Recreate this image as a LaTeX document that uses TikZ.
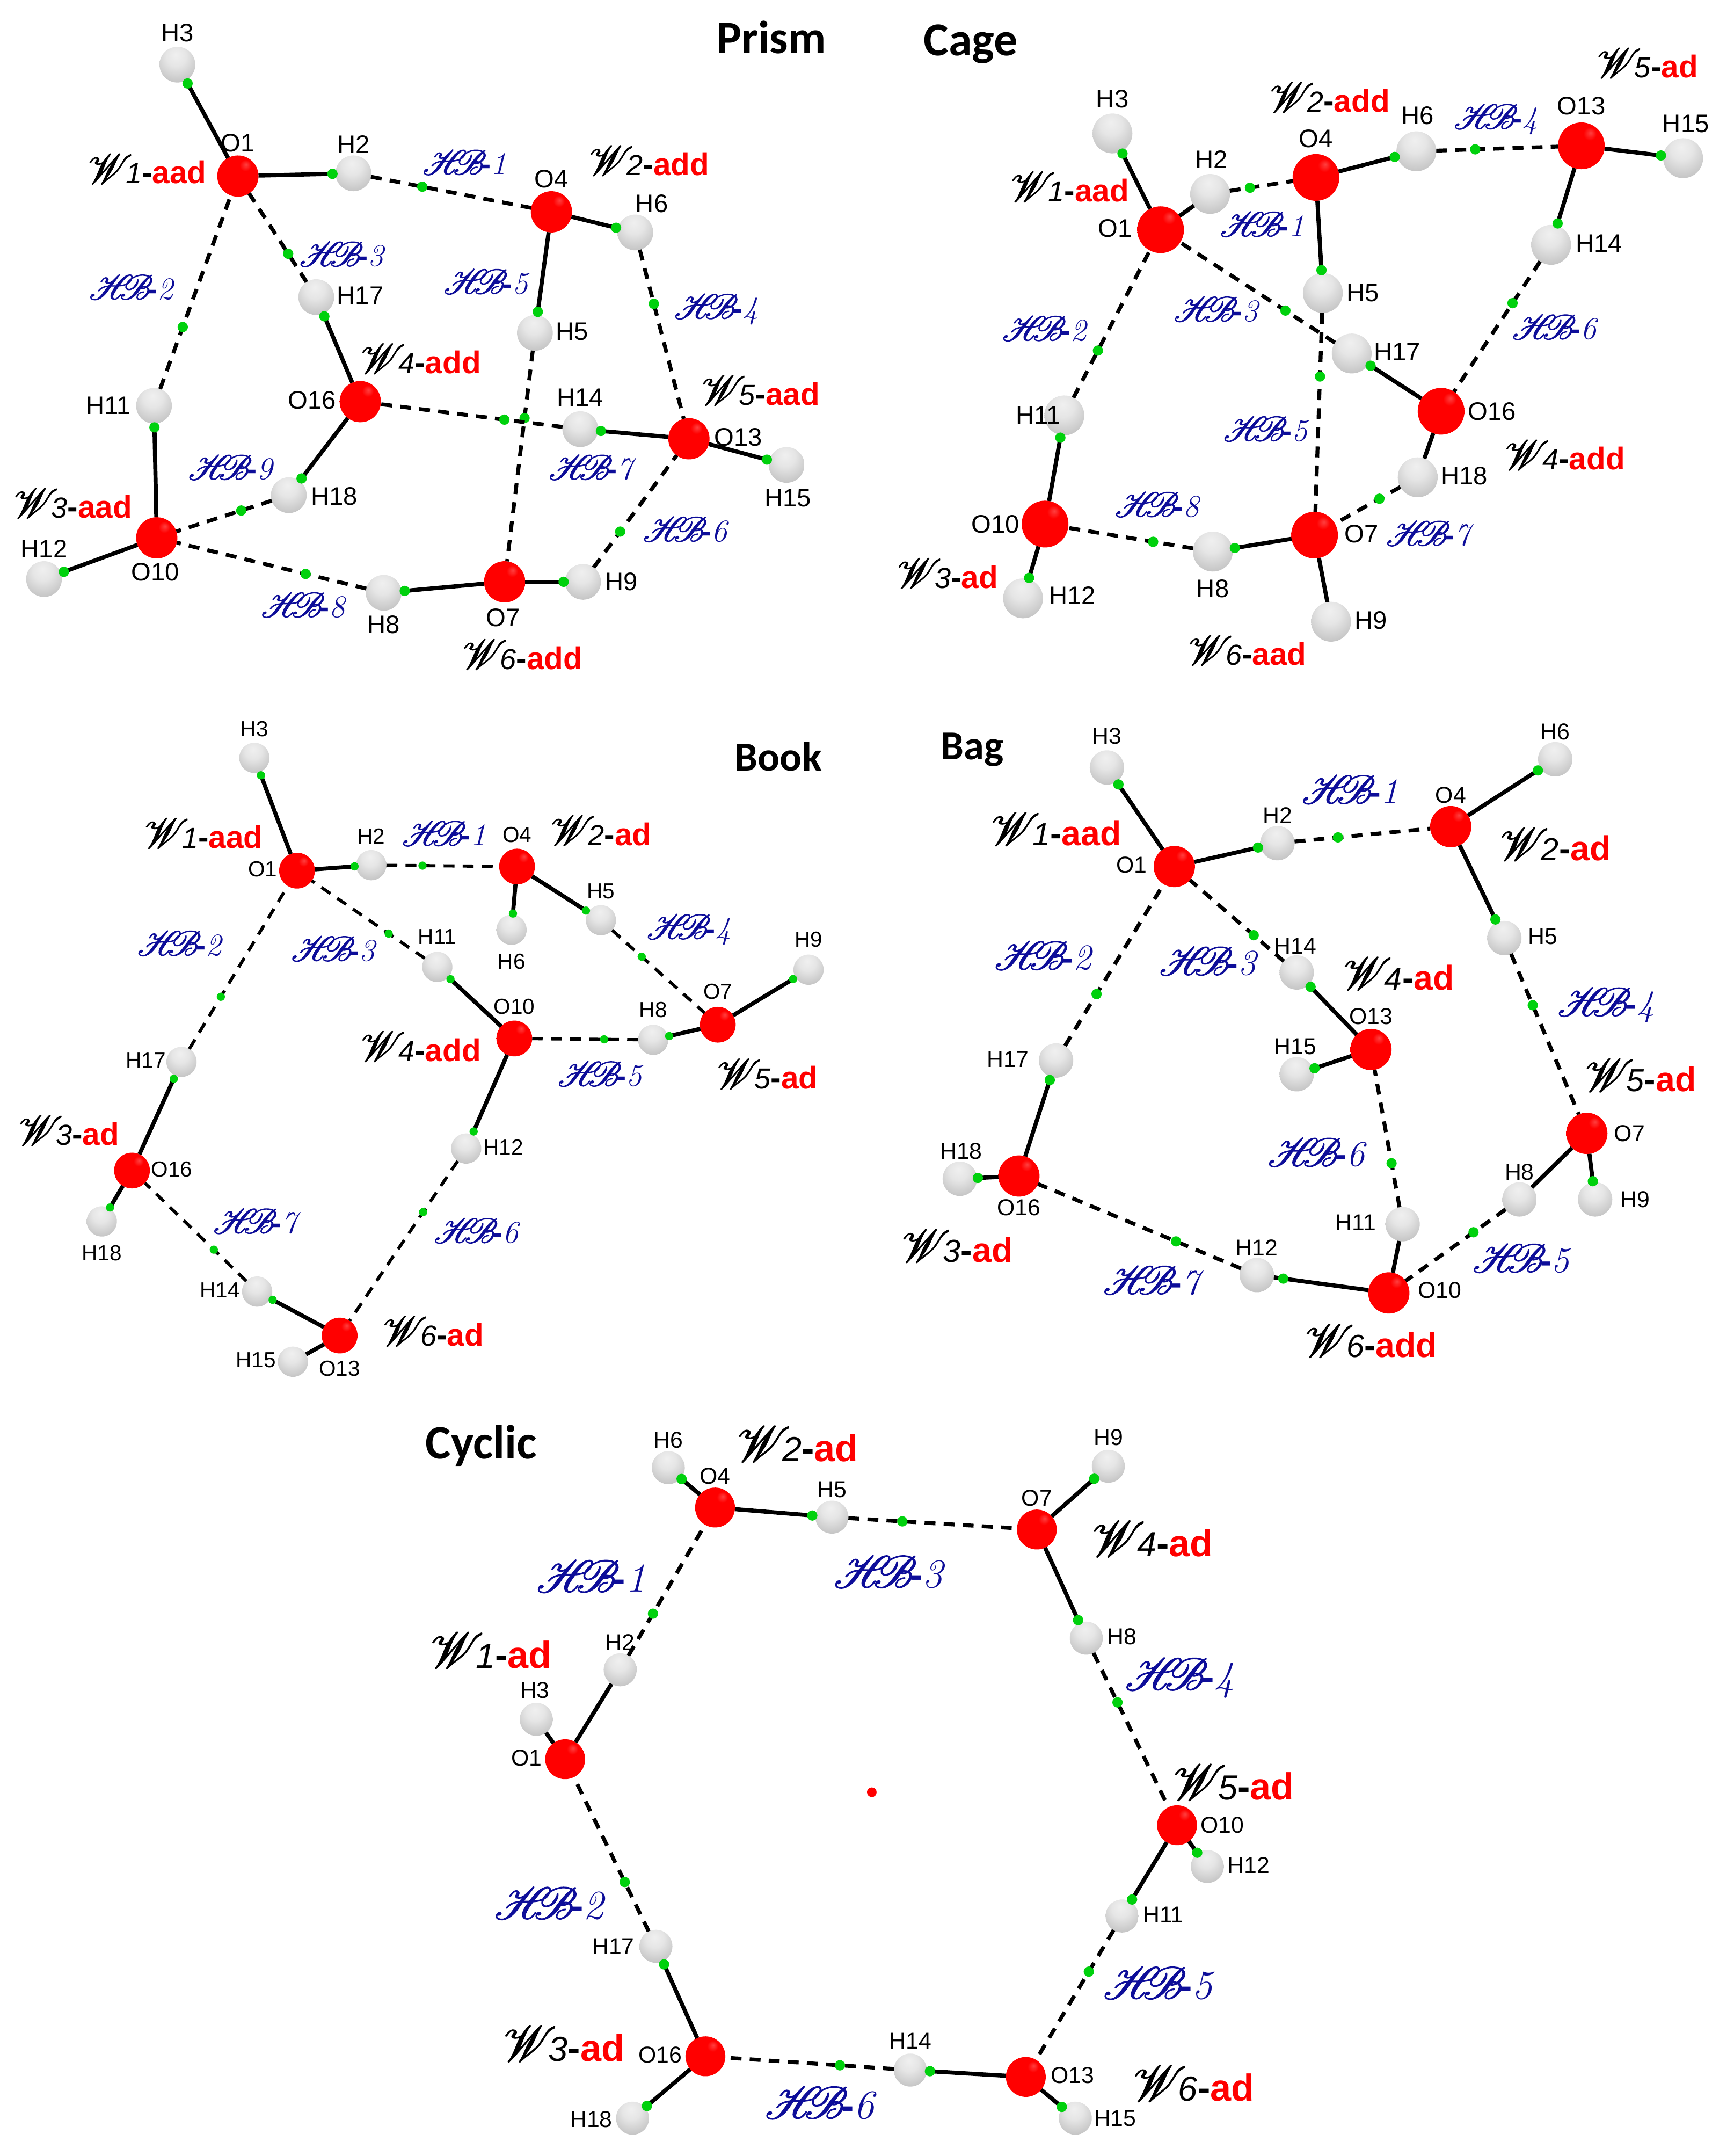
\documentclass[tikz,border=0pt]{standalone}
\usepackage{fontspec}
\usepackage{mathrsfs}
\newfontfamily\labfont{Liberation Sans}
\newfontfamily\headfont{Carlito}
\definecolor{hbblue}{rgb}{0.05,0.05,0.6}
\definecolor{cpgreen}{rgb}{0,0.82,0.05}
\pgfdeclareradialshading{oxyball}{\pgfpoint{10bp}{14bp}}{color(0bp)=(red!75!white);color(7bp)=(red);color(48bp)=(red);color(65bp)=(red!82!black);color(80bp)=(red!75!black)}
\pgfdeclareradialshading{hydball}{\pgfpoint{-2bp}{14bp}}{color(0bp)=(black!6);color(14bp)=(black!10);color(38bp)=(black!26);color(58bp)=(black!46);color(80bp)=(black!58)}
\newcommand{\heavy}[1]{\special{pdf:code q 2 Tr .22 w}{#1}\special{pdf:code Q}}
\newcommand{\wat}[2]{\heavy{\fontsize{19}{19}\selectfont$\mathscr{W}$\kern-3pt}{\fontsize{12}{12}\selectfont\textit{#1}}{\labfont\bfseries -\textcolor{red}{#2}}}
\newcommand{\hbn}[1]{\heavy{\fontsize{15}{15}\selectfont$\mathscr{H}\mkern-7mu\mathscr{B}$\kern-2pt}{\labfont\bfseries\fontsize{12}{12}\selectfont -}{\fontsize{13}{13}\selectfont\textit{#1}}}
\tikzset{
  ball/.style={circle, inner sep=0pt, outer sep=0pt, draw=none},
  oxy/.style={ball, shading=oxyball, minimum size=.6cm},
  hyd/.style={ball, shading=hydball, minimum size=.52cm},
  atomlab/.style={inner sep=0pt, font=\labfont\fontsize{10.5}{10.5}\selectfont},
  wlab/.style={inner sep=0pt, font=\labfont\fontsize{13}{13}\selectfont},
  hblab/.style={inner sep=0pt, text=hbblue, font=\fontsize{14}{14}\selectfont},
  headlab/.style={inner sep=0pt, font=\headfont\bfseries\fontsize{17}{17}\selectfont},
  bcp/.style={circle, inner sep=0pt, minimum size=.15cm, fill=cpgreen, pos=.96},
  hcp/.style={circle, inner sep=0pt, minimum size=.15cm, fill=cpgreen, pos=.32},
  bond/.style={line width=1.7pt},
  hbond/.style={line width=1.6pt, dash pattern=on 4.5pt off 3.4pt},
}
\begin{document}
\begin{tikzpicture}[x=.02cm, y=-.02cm]
    \useasboundingbox (0,0) rectangle (1261,1567.5);
    \node[headlab, scale=1.13] (tprism) at (561,27) {Prism};
    \node[headlab, scale=1.15] (tcage) at (706,32) {Cage};
    \node[headlab] (tbook) at (566,550) {Book};
    \node[headlab] (tbag) at (707,545) {Bag};
    \node[headlab, scale=1.17] (tcyclic) at (350,1051) {Cyclic};
    % prism
    \begin{scope}
        \node[oxy] (po1) at (173,128) {}; \node[atomlab] (pto1) at (173,104) {O1};
        \node[hyd] (ph3) at (129,47) {}; \node[atomlab] (pth3) at (129,24) {H3};
        \node[hyd] (ph2) at (257,126) {}; \node[atomlab] (pth2) at (257,105) {H2};
        \node[oxy] (po4) at (401,154) {}; \node[atomlab] (pto4) at (401,130) {O4};
        \node[hyd] (ph6) at (462,169) {}; \node[atomlab] (pth6) at (474,148) {H6};
        \node[hyd] (ph17) at (230,216) {}; \node[atomlab] (pth17) at (262,215) {H17};
        \node[hyd] (ph5) at (389,242) {}; \node[atomlab] (pth5) at (416,241) {H5};
        \node[hyd] (ph11) at (112,295) {}; \node[atomlab] (pth11) at (79,295) {H11};
        \node[oxy] (po16) at (262,292) {}; \node[atomlab] (pto16) at (227,291) {O16};
        \node[hyd] (ph14) at (422,312) {}; \node[atomlab] (pth14) at (422,289) {H14};
        \node[oxy] (po13) at (501,319) {}; \node[atomlab] (pto13) at (537,318) {O13};
        \node[hyd] (ph15) at (572,338) {}; \node[atomlab] (pth15) at (573,362) {H15};
        \node[hyd] (ph18) at (210,360) {}; \node[atomlab] (pth18) at (243,361) {H18};
        \node[oxy] (po10) at (114,391) {}; \node[atomlab] (pto10) at (113,416) {O10};
        \node[hyd] (ph12) at (32,421) {}; \node[atomlab] (pth12) at (32,399) {H12};
        \node[hyd] (ph8) at (279,431) {}; \node[atomlab] (pth8) at (279,454) {H8};
        \node[oxy] (po7) at (367,423) {}; \node[atomlab] (pto7) at (366,449) {O7};
        \node[hyd] (ph9) at (424,423) {}; \node[atomlab] (pth9) at (452,423) {H9};
        \draw[bond] (po1) -- node[bcp] (pb1) {} (ph3);
        \draw[bond] (po1) -- node[bcp] (pb2) {} (ph2);
        \draw[bond] (po4) -- node[bcp] (pb3) {} (ph6);
        \draw[bond] (po4) -- node[bcp] (pb4) {} (ph5);
        \draw[bond] (po16) -- node[bcp] (pb5) {} (ph17);
        \draw[bond] (po16) -- node[bcp] (pb6) {} (ph18);
        \draw[bond] (po13) -- node[bcp] (pb7) {} (ph14);
        \draw[bond] (po13) -- node[bcp] (pb8) {} (ph15);
        \draw[bond] (po10) -- node[bcp] (pb9) {} (ph11);
        \draw[bond] (po10) -- node[bcp] (pb10) {} (ph12);
        \draw[bond] (po7) -- node[bcp] (pb11) {} (ph8);
        \draw[bond] (po7) -- node[bcp] (pb12) {} (ph9);
        \draw[hbond] (ph2) -- node[hcp] (pc1) {} (po4);
        \draw[hbond] (ph11) -- node[hcp] (pc2) {} (po1);
        \draw[hbond] (ph17) -- node[hcp] (pc3) {} (po1);
        \draw[hbond] (ph6) -- node[hcp] (pc4) {} (po13);
        \draw[hbond] (ph5) -- node[hcp] (pc5) {} (po7);
        \draw[hbond] (ph9) -- node[hcp] (pc6) {} (po13);
        \draw[hbond] (ph14) -- node[hcp] (pc7) {} (po16);
        \draw[hbond] (ph8) -- node[hcp] (pc8) {} (po10);
        \draw[hbond] (ph18) -- node[hcp] (pc9) {} (po10);
        \node[wlab] (pw1) at (107,123) {\wat{1}{aad}};
        \node[wlab] (pw2) at (472,117) {\wat{2}{add}};
        \node[wlab] (pw3) at (53,366) {\wat{3}{aad}};
        \node[wlab] (pw4) at (306,261) {\wat{4}{add}};
        \node[wlab] (pw5) at (553,284) {\wat{5}{aad}};
        \node[wlab] (pw6) at (380,476) {\wat{6}{add}};
        \node[hblab] (phb1) at (338,118) {\hbn{1}};
        \node[hblab] (phb2) at (96,209) {\hbn{2}};
        \node[hblab] (phb3) at (249,185) {\hbn{3}};
        \node[hblab] (phb4) at (521,225) {\hbn{4}};
        \node[hblab] (phb5) at (354,205) {\hbn{5}};
        \node[hblab] (phb6) at (499,385) {\hbn{6}};
        \node[hblab] (phb7) at (431,340) {\hbn{7}};
        \node[hblab] (phb8) at (221,440) {\hbn{8}};
        \node[hblab] (phb9) at (168,340) {\hbn{9}};
    \end{scope}
    % cage
    \begin{scope}[oxy/.append style={minimum size=.68cm}, hyd/.append style={minimum size=.58cm}]
        \node[oxy] (co1) at (844,167) {}; \node[atomlab] (cto1) at (811,166) {O1};
        \node[hyd] (ch3) at (809,97) {}; \node[atomlab] (cth3) at (809,72) {H3};
        \node[hyd] (ch2) at (880,141) {}; \node[atomlab] (cth2) at (881,116) {H2};
        \node[oxy] (co4) at (957,129) {}; \node[atomlab] (cto4) at (957,101) {O4};
        \node[hyd] (ch6) at (1030,110) {}; \node[atomlab] (cth6) at (1031,84) {H6};
        \node[oxy] (co13) at (1150,106) {}; \node[atomlab] (cto13) at (1150,77) {O13};
        \node[hyd] (ch15) at (1224,115) {}; \node[atomlab] (cth15) at (1226,90) {H15};
        \node[hyd] (ch14) at (1128,178) {}; \node[atomlab] (cth14) at (1163,177) {H14};
        \node[hyd] (ch5) at (962,213) {}; \node[atomlab] (cth5) at (991,213) {H5};
        \node[hyd] (ch17) at (983,257) {}; \node[atomlab] (cth17) at (1016,256) {H17};
        \node[oxy] (co16) at (1048,299) {}; \node[atomlab] (cto16) at (1085,299) {O16};
        \node[hyd] (ch18) at (1031,347) {}; \node[atomlab] (cth18) at (1065,346) {H18};
        \node[oxy] (co7) at (956,389) {}; \node[atomlab] (cto7) at (990,388) {O7};
        \node[hyd] (ch8) at (882,401) {}; \node[atomlab] (cth8) at (882,428) {H8};
        \node[oxy] (co10) at (760,381) {}; \node[atomlab] (cto10) at (724,381) {O10};
        \node[hyd] (ch12) at (744,435) {}; \node[atomlab] (cth12) at (780,433) {H12};
        \node[hyd] (ch11) at (774,302) {}; \node[atomlab] (cth11) at (755,302) {H11};
        \node[hyd] (ch9) at (968,452) {}; \node[atomlab] (cth9) at (997,451) {H9};
        \draw[bond] (co1) -- node[bcp] (cb1) {} (ch3);
        \draw[bond] (co1) -- (ch2);
        \draw[bond] (co4) -- node[bcp] (cb3) {} (ch6);
        \draw[bond] (co4) -- node[bcp] (cb4) {} (ch5);
        \draw[bond] (co13) -- node[bcp] (cb5) {} (ch15);
        \draw[bond] (co13) -- node[bcp] (cb6) {} (ch14);
        \draw[bond] (co16) -- node[bcp] (cb7) {} (ch17);
        \draw[bond] (co16) -- (ch18);
        \draw[bond] (co7) -- node[bcp] (cb9) {} (ch8);
        \draw[bond] (co7) -- (ch9);
        \draw[bond] (co10) -- node[bcp] (cb11) {} (ch11);
        \draw[bond] (co10) -- node[bcp] (cb12) {} (ch12);
        \draw[hbond] (ch2) -- node[hcp] (cc1) {} (co4);
        \draw[hbond] (ch11) -- node[hcp] (cc2) {} (co1);
        \draw[hbond] (ch17) -- node[hcp] (cc3) {} (co1);
        \draw[hbond] (ch6) -- node[hcp] (cc4) {} (co13);
        \draw[hbond] (ch5) -- node[hcp] (cc5) {} (co7);
        \draw[hbond] (ch14) -- node[hcp] (cc6) {} (co16);
        \draw[hbond] (ch18) -- node[hcp] (cc7) {} (co7);
        \draw[hbond] (ch8) -- node[hcp] (cc8) {} (co10);
        \node[wlab] (cw1) at (778,136) {\wat{1}{aad}};
        \node[wlab] (cw2) at (967,71) {\wat{2}{add}};
        \node[wlab] (cw3) at (689,417) {\wat{3}{ad}};
        \node[wlab] (cw4) at (1138,331) {\wat{4}{add}};
        \node[wlab] (cw5) at (1198,46) {\wat{5}{ad}};
        \node[wlab] (cw6) at (907,473) {\wat{6}{aad}};
        \node[hblab] (chb1) at (918,163) {\hbn{1}};
        \node[hblab] (chb2) at (760,239) {\hbn{2}};
        \node[hblab] (chb3) at (885,225) {\hbn{3}};
        \node[hblab] (chb4) at (1088,87) {\hbn{4}};
        \node[hblab] (chb5) at (921,312) {\hbn{5}};
        \node[hblab] (chb6) at (1131,238) {\hbn{6}};
        \node[hblab] (chb7) at (1040,388) {\hbn{7}};
        \node[hblab] (chb8) at (842,367) {\hbn{8}};
    \end{scope}
    % book
    \begin{scope}[oxy/.append style={minimum size=.52cm}, hyd/.append style={minimum size=.44cm},
        atomlab/.append style={font=\labfont\fontsize{9}{9}\selectfont}, bcp/.append style={minimum size=.12cm}, hcp/.append style={minimum size=.12cm}, hbond/.append style={line width=1.3pt}]
        \node[hyd] (kh3) at (185,551) {}; \node[atomlab] (kth3) at (185,530) {H3};
        \node[oxy] (ko1) at (216,633) {}; \node[atomlab] (kto1) at (191,632) {O1};
        \node[hyd] (kh2) at (270,629) {}; \node[atomlab] (kth2) at (270,608) {H2};
        \node[oxy] (ko4) at (376,630) {}; \node[atomlab] (kto4) at (376,607) {O4};
        \node[hyd] (kh6) at (372,676) {}; \node[atomlab] (kth6) at (372,699) {H6};
        \node[hyd] (kh5) at (437,669) {}; \node[atomlab] (kth5) at (437,648) {H5};
        \node[hyd] (kh11) at (318,703) {}; \node[atomlab] (kth11) at (318,681) {H11};
        \node[oxy] (ko10) at (374,755) {}; \node[atomlab] (kto10) at (374,732) {O10};
        \node[hyd] (kh8) at (475,756) {}; \node[atomlab] (kth8) at (475,734) {H8};
        \node[oxy] (ko7) at (522,745) {}; \node[atomlab] (kto7) at (522,721) {O7};
        \node[hyd] (kh9) at (588,705) {}; \node[atomlab] (kth9) at (588,683) {H9};
        \node[hyd] (kh17) at (132,772) {}; \node[atomlab] (kth17) at (106,771) {H17};
        \node[oxy] (ko16) at (96,851) {}; \node[atomlab] (kto16) at (125,850) {O16};
        \node[hyd] (kh18) at (74,888) {}; \node[atomlab] (kth18) at (74,911) {H18};
        \node[hyd] (kh12) at (339,835) {}; \node[atomlab] (kth12) at (366,834) {H12};
        \node[hyd] (kh14) at (187,939) {}; \node[atomlab] (kth14) at (160,938) {H14};
        \node[oxy] (ko13) at (247,971) {}; \node[atomlab] (kto13) at (247,995) {O13};
        \node[hyd] (kh15) at (213,990) {}; \node[atomlab] (kth15) at (186,989) {H15};
        \draw[bond] (ko1) -- node[bcp] (kb1) {} (kh3);
        \draw[bond] (ko1) -- node[bcp] (kb2) {} (kh2);
        \draw[bond] (ko4) -- node[bcp] (kb3) {} (kh6);
        \draw[bond] (ko4) -- node[bcp] (kb4) {} (kh5);
        \draw[bond] (ko10) -- node[bcp] (kb5) {} (kh11);
        \draw[bond] (ko10) -- node[bcp] (kb6) {} (kh12);
        \draw[bond] (ko7) -- node[bcp] (kb7) {} (kh8);
        \draw[bond] (ko7) -- node[bcp] (kb8) {} (kh9);
        \draw[bond] (ko16) -- node[bcp] (kb9) {} (kh17);
        \draw[bond] (ko16) -- node[bcp] (kb10) {} (kh18);
        \draw[bond] (ko13) -- node[bcp] (kb11) {} (kh14);
        \draw[bond] (ko13) -- (kh15);
        \draw[hbond] (kh2) -- node[hcp] (kc1) {} (ko4);
        \draw[hbond] (kh17) -- node[hcp] (kc2) {} (ko1);
        \draw[hbond] (kh11) -- node[hcp] (kc3) {} (ko1);
        \draw[hbond] (kh5) -- node[hcp] (kc4) {} (ko7);
        \draw[hbond] (kh8) -- node[hcp] (kc5) {} (ko10);
        \draw[hbond] (kh12) -- node[hcp] (kc6) {} (ko13);
        \draw[hbond] (kh14) -- node[hcp] (kc7) {} (ko16);
        \node[wlab] (kw1) at (148,606) {\wat{1}{aad}};
        \node[wlab] (kw2) at (437,604) {\wat{2}{ad}};
        \node[wlab] (kw3) at (50,822) {\wat{3}{ad}};
        \node[wlab] (kw4) at (306,761) {\wat{4}{add}};
        \node[wlab] (kw5) at (558,781) {\wat{5}{ad}};
        \node[wlab] (kw6) at (315,968) {\wat{6}{ad}};
        \node[hblab] (khb1) at (323,606) {\hbn{1}};
        \node[hblab] (khb2) at (131,686) {\hbn{2}};
        \node[hblab] (khb3) at (243,690) {\hbn{3}};
        \node[hblab] (khb4) at (501,676) {\hbn{4}};
        \node[hblab] (khb5) at (437,781) {\hbn{5}};
        \node[hblab] (khb6) at (347,895) {\hbn{6}};
        \node[hblab] (khb7) at (187,888) {\hbn{7}};
    \end{scope}
    % bag
    \begin{scope}[hyd/.append style={minimum size=.5cm},
        atomlab/.append style={font=\labfont\fontsize{9.5}{9.5}\selectfont}, wlab/.append style={scale=1.1}, hblab/.append style={scale=1.15}]
        \node[hyd] (gh3) at (805,558) {}; \node[atomlab] (gth3) at (805,535) {H3};
        \node[oxy] (go1) at (854,630) {}; \node[atomlab] (gto1) at (823,629) {O1};
        \node[hyd] (gh2) at (929,613) {}; \node[atomlab] (gth2) at (929,593) {H2};
        \node[oxy] (go4) at (1055,601) {}; \node[atomlab] (gto4) at (1055,578) {O4};
        \node[hyd] (gh6) at (1131,552) {}; \node[atomlab] (gth6) at (1131,532) {H6};
        \node[hyd] (gh5) at (1094,682) {}; \node[atomlab] (gth5) at (1122,681) {H5};
        \node[hyd] (gh14) at (943,707) {}; \node[atomlab] (gth14) at (942,688) {H14};
        \node[oxy] (go13) at (997,763) {}; \node[atomlab] (gto13) at (997,739) {O13};
        \node[hyd] (gh15) at (943,781) {}; \node[atomlab] (gth15) at (942,761) {H15};
        \node[hyd] (gh11) at (1020,890) {}; \node[atomlab] (gth11) at (986,889) {H11};
        \node[oxy] (go7) at (1154,824) {}; \node[atomlab] (gto7) at (1185,824) {O7};
        \node[hyd] (gh9) at (1160,872) {}; \node[atomlab] (gth9) at (1189,872) {H9};
        \node[hyd] (gh8) at (1105,872) {}; \node[atomlab] (gth8) at (1105,852) {H8};
        \node[oxy] (go10) at (1010,940) {}; \node[atomlab] (gto10) at (1047,938) {O10};
        \node[hyd] (gh12) at (914,927) {}; \node[atomlab] (gth12) at (914,907) {H12};
        \node[hyd] (gh17) at (768,771) {}; \node[atomlab] (gth17) at (733,770) {H17};
        \node[oxy] (go16) at (741,855) {}; \node[atomlab] (gto16) at (741,878) {O16};
        \node[hyd] (gh18) at (698,857) {}; \node[atomlab] (gth18) at (699,837) {H18};
        \draw[bond] (go1) -- node[bcp] (gb1) {} (gh3);
        \draw[bond] (go1) -- node[bcp] (gb2) {} (gh2);
        \draw[bond] (go4) -- node[bcp] (gb3) {} (gh6);
        \draw[bond] (go4) -- node[bcp] (gb4) {} (gh5);
        \draw[bond] (go13) -- node[bcp] (gb5) {} (gh14);
        \draw[bond] (go13) -- node[bcp] (gb6) {} (gh15);
        \draw[bond] (go7) -- (gh8);
        \draw[bond] (go7) -- node[bcp] (gb8) {} (gh9);
        \draw[bond] (go10) -- (gh11);
        \draw[bond] (go10) -- node[bcp,pos=.9] (gb10) {} (gh12);
        \draw[bond] (go16) -- node[bcp] (gb11) {} (gh17);
        \draw[bond] (go16) -- node[bcp] (gb12) {} (gh18);
        \draw[hbond] (gh2) -- node[hcp] (gc1) {} (go4);
        \draw[hbond] (gh17) -- node[hcp] (gc2) {} (go1);
        \draw[hbond] (gh14) -- node[hcp] (gc3) {} (go1);
        \draw[hbond] (gh5) -- node[hcp] (gc4) {} (go7);
        \draw[hbond] (gh8) -- node[hcp] (gc5) {} (go10);
        \draw[hbond] (gh11) -- node[hcp] (gc6) {} (go13);
        \draw[hbond] (gh12) -- node[hcp] (gc7) {} (go16);
        \node[wlab] (gw1) at (768,603) {\wat{1}{aad}};
        \node[wlab] (gw2) at (1131,614) {\wat{2}{ad}};
        \node[wlab] (gw3) at (696,906) {\wat{3}{ad}};
        \node[wlab] (gw4) at (1017,708) {\wat{4}{ad}};
        \node[wlab] (gw5) at (1193,782) {\wat{5}{ad}};
        \node[wlab] (gw6) at (997,975) {\wat{6}{add}};
        \node[hblab] (ghb1) at (982,574) {\hbn{1}};
        \node[hblab] (ghb2) at (759,695) {\hbn{2}};
        \node[hblab] (ghb3) at (879,699) {\hbn{3}};
        \node[hblab] (ghb4) at (1168,731) {\hbn{4}};
        \node[hblab] (ghb5) at (1107,915) {\hbn{5}};
        \node[hblab] (ghb6) at (958,838) {\hbn{6}};
        \node[hblab] (ghb7) at (839,931) {\hbn{7}};
    \end{scope}
    % cyclic
    \begin{scope}[oxy/.append style={minimum size=.58cm}, hyd/.append style={minimum size=.48cm},
        atomlab/.append style={font=\labfont\fontsize{9.5}{9.5}\selectfont}, wlab/.append style={scale=1.2}, hblab/.append style={scale=1.3}]
        \node[hyd] (yh6) at (486,1067) {}; \node[atomlab] (yth6) at (486,1047) {H6};
        \node[oxy] (yo4) at (520,1096) {}; \node[atomlab] (yto4) at (520,1073) {O4};
        \node[hyd] (yh5) at (605,1103) {}; \node[atomlab] (yth5) at (605,1083) {H5};
        \node[oxy] (yo7) at (754,1112) {}; \node[atomlab] (yto7) at (754,1089) {O7};
        \node[hyd] (yh9) at (806,1066) {}; \node[atomlab] (yth9) at (806,1045) {H9};
        \node[hyd] (yh8) at (790,1191) {}; \node[atomlab] (yth8) at (816,1190) {H8};
        \node[hyd] (yh2) at (451,1214) {}; \node[atomlab] (yth2) at (451,1194) {H2};
        \node[hyd] (yh3) at (390,1250) {}; \node[atomlab] (yth3) at (389,1229) {H3};
        \node[oxy] (yo1) at (411,1279) {}; \node[atomlab] (yto1) at (383,1278) {O1};
        \node[hyd] (yh17) at (477,1415) {}; \node[atomlab] (yth17) at (446,1415) {H17};
        \node[oxy] (yo16) at (513,1495) {}; \node[atomlab] (yto16) at (480,1494) {O16};
        \node[hyd] (yh18) at (460,1540) {}; \node[atomlab] (yth18) at (430,1541) {H18};
        \node[hyd] (yh14) at (662,1505) {}; \node[atomlab] (yth14) at (662,1484) {H14};
        \node[oxy] (yo13) at (746,1510) {}; \node[atomlab] (yto13) at (780,1509) {O13};
        \node[hyd] (yh15) at (782,1540) {}; \node[atomlab] (yth15) at (811,1540) {H15};
        \node[hyd] (yh11) at (816,1393) {}; \node[atomlab] (yth11) at (846,1392) {H11};
        \node[oxy] (yo10) at (856,1327) {}; \node[atomlab] (yto10) at (889,1327) {O10};
        \node[hyd] (yh12) at (878,1357) {}; \node[atomlab] (yth12) at (908,1356) {H12};
        \node[circle, inner sep=0pt, minimum size=.14cm, fill=red] (yrcp) at (634,1303) {};
        \draw[bond] (yo4) -- node[bcp] (yb1) {} (yh6);
        \draw[bond] (yo4) -- node[bcp] (yb2) {} (yh5);
        \draw[bond] (yo7) -- node[bcp] (yb3) {} (yh9);
        \draw[bond] (yo7) -- node[bcp] (yb4) {} (yh8);
        \draw[bond] (yo1) -- (yh2);
        \draw[bond] (yo1) -- (yh3);
        \draw[bond] (yo16) -- node[bcp] (yb7) {} (yh17);
        \draw[bond] (yo16) -- node[bcp] (yb8) {} (yh18);
        \draw[bond] (yo13) -- node[bcp] (yb9) {} (yh14);
        \draw[bond] (yo13) -- node[bcp] (yb10) {} (yh15);
        \draw[bond] (yo10) -- node[bcp] (yb11) {} (yh11);
        \draw[bond] (yo10) -- node[bcp] (yb12) {} (yh12);
        \draw[hbond] (yh2) -- node[hcp] (yc1) {} (yo4);
        \draw[hbond] (yh17) -- node[hcp] (yc2) {} (yo1);
        \draw[hbond] (yh5) -- node[hcp] (yc3) {} (yo7);
        \draw[hbond] (yh8) -- node[hcp] (yc4) {} (yo10);
        \draw[hbond] (yh11) -- node[hcp] (yc5) {} (yo13);
        \draw[hbond] (yh14) -- node[hcp] (yc6) {} (yo16);
        \node[wlab] (yw1) at (357,1200) {\wat{1}{ad}};
        \node[wlab] (yw2) at (580,1050) {\wat{2}{ad}};
        \node[wlab] (yw3) at (410,1486) {\wat{3}{ad}};
        \node[wlab] (yw4) at (838,1119) {\wat{4}{ad}};
        \node[wlab] (yw5) at (897,1296) {\wat{5}{ad}};
        \node[wlab] (yw6) at (868,1515) {\wat{6}{ad}};
        \node[hblab] (yhb1) at (430,1146) {\hbn{1}};
        \node[hblab] (yhb2) at (400,1384) {\hbn{2}};
        \node[hblab] (yhb3) at (647,1143) {\hbn{3}};
        \node[hblab] (yhb4) at (858,1220) {\hbn{4}};
        \node[hblab] (yhb5) at (843,1442) {\hbn{5}};
        \node[hblab] (yhb6) at (597,1529) {\hbn{6}};
    \end{scope}
\end{tikzpicture}
\end{document}
